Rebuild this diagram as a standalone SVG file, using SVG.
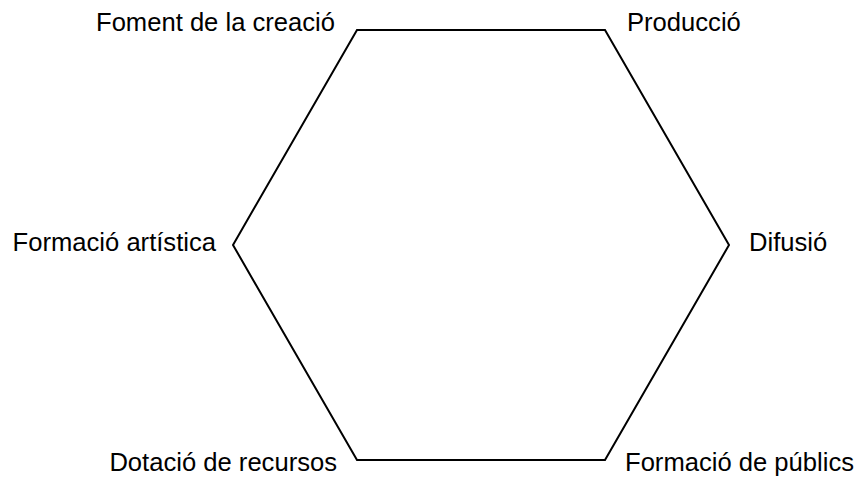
<svg xmlns="http://www.w3.org/2000/svg" width="856" height="477" viewBox="0 0 856 477">
<style>
.lbl{font-family:"Liberation Sans",Arial,sans-serif;font-size:25.6px;fill:#000}
.hex{fill:none;stroke:#000;stroke-width:2;stroke-linejoin:miter}
</style>
<rect width="856" height="477" fill="#fff"/>
<g id="connectors">
<polygon class="hex" points="357,30 605,30 729,245 605,460 357,460 233,245"/>
</g>
<g id="foment"><text class="lbl" x="335" y="31" text-anchor="end">Foment de la creació</text></g>
<g id="produccio"><text class="lbl" x="627" y="31">Producció</text></g>
<g id="formacio-artistica"><text class="lbl" x="216" y="251" text-anchor="end">Formació artística</text></g>
<g id="difusio"><text class="lbl" x="749" y="251">Difusió</text></g>
<g id="dotacio"><text class="lbl" x="337" y="471" text-anchor="end">Dotació de recursos</text></g>
<g id="formacio-publics"><text class="lbl" x="625" y="471">Formació de públics</text></g>
</svg>
